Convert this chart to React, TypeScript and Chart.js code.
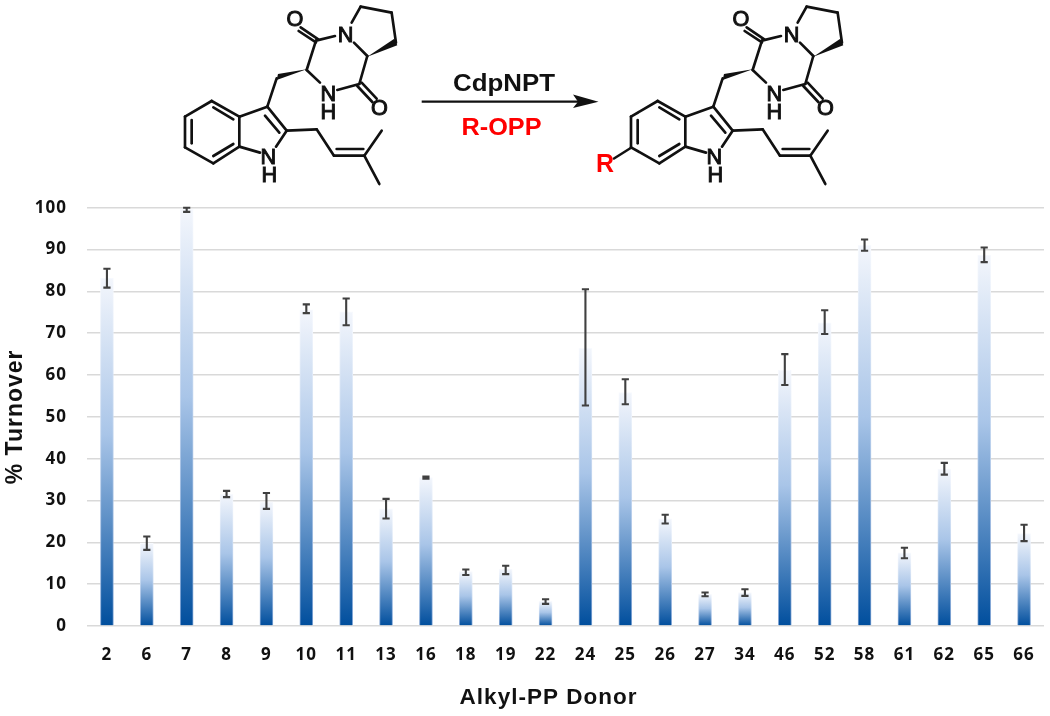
import React, { useEffect, useRef } from "react";
import { Chart, registerables } from "chart.js";

Chart.register(...registerables);

const donors = ["2","6","7","8","9","10","11","13","16","18","19","22","24","25","26","27","34","46","52","58","61","62","65","66"];
const turnover = [83.2,19.8,99.6,31.5,29.7,75.6,75.1,28,35.5,13,13.6,5.9,66.4,55.8,25.6,7.6,8,61.2,72.5,91,17.5,37.5,88.7,22.1];
const errorHigh = [85.4,21.4,100,32.3,31.8,76.9,78.3,30.4,35.7,13.5,14.4,6.4,80.5,59,26.6,8,8.8,65,75.5,92.4,18.7,39,90.5,24.2];
const errorLow = [80.9,18.2,99,30.8,28,74.8,71.9,25.7,35.2,12.2,12.4,5.3,52.7,53,24.5,7.1,7.2,57.6,69.8,89.7,16.2,36.2,87,20.3];
const yTicks = [0,10,20,30,40,50,60,70,80,90,100];

const FONT = "'Open Sans', sans-serif";
const TITLE_FONT = "'Liberation Sans', Arial, sans-serif";

function barGradient(ctx: any, stops: [number, string][]) {
  const chart = ctx.chart;
  const yScale = chart.scales.y;
  if (!yScale || ctx.parsed == null) return stops[0][1];
  const top = yScale.getPixelForValue(ctx.parsed.y);
  const bottom = yScale.getPixelForValue(0);
  if (!isFinite(top) || !isFinite(bottom)) return stops[0][1];
  const g = chart.ctx.createLinearGradient(0, top, 0, bottom);
  stops.forEach(([o, c]) => g.addColorStop(o, c));
  return g;
}

const errorBars = {
  id: "errorBars",
  afterDatasetsDraw(chart: any) {
    const { ctx, scales } = chart;
    const meta = chart.getDatasetMeta(0);
    ctx.save();
    ctx.strokeStyle = "#404040";
    ctx.lineWidth = 2.1;
    meta.data.forEach((bar: any, i: number) => {
      const x = bar.x;
      const hi = scales.y.getPixelForValue(errorHigh[i]);
      const lo = scales.y.getPixelForValue(errorLow[i]);
      ctx.beginPath();
      ctx.moveTo(x, hi);
      ctx.lineTo(x, lo);
      ctx.moveTo(x - 3.6, hi);
      ctx.lineTo(x + 3.6, hi);
      ctx.moveTo(x - 3.6, lo);
      ctx.lineTo(x + 3.6, lo);
      ctx.stroke();
    });
    ctx.restore();
  },
};

// Spaces the text out slightly and moves the x-axis title left of the plot centre, as in the reference.
const textSpacing = {
  id: "textSpacing",
  beforeDraw(chart: any) {
    chart.ctx.letterSpacing = "1px";
    const s = chart.scales.x;
    if (!s.$titleShifted) {
      s.right -= 34;
      s.$titleShifted = true;
    }
  },
};

type Seg = [number, number, number, number];
const bonds: Seg[] = [
  [452,82,505,118],[446,93,498,127],[498,122,555,108],[605,68,632,20],[632,20,725,38],[725,38,738,128],
  [652,168,612,128],[652,168,628,252],[635,248,680,296],[622,258,667,306],[628,252,562,270],
  [510,248,470,210],[470,210,498,122],[380,235,352,320],[352,320,410,392],[345,347,388,398],
  [352,320,268,350],[268,350,268,440],[268,440,330,458],[378,440,410,392],
  [268,350,185,303],[185,303,105,350],[105,350,105,442],[105,442,190,490],[190,490,268,440],
  [190,322,250,358],[125,360,125,430],[190,468,250,432],
  [410,392,500,388],[500,388,552,467],[552,467,643,467],[560,447,640,447],[643,467,695,392],[643,467,688,552],
];
const wedges = ["652,170 733,116 742,136", "470,208 384,222 380,240"];
const atoms: [string, number, number][] = [
  ["O",435,55],["N",587,102],["N",535,280],["H",535,334],["O",688,322],["N",355,468],["H",358,522],
];

function Molecule({ dx }: { dx: number }) {
  return (
    <g transform={`translate(${dx},0) scale(0.3333)`}>
      {bonds.map((b, i) => (
        <line key={i} x1={b[0]} y1={b[1]} x2={b[2]} y2={b[3]} stroke="#111" strokeWidth={8} strokeLinecap="round" />
      ))}
      {wedges.map((p, i) => <polygon key={i} points={p} fill="#111" />)}
      {atoms.map((a, i) => (
        <text key={i} x={a[1]} y={a[2] + 23} textAnchor="middle" fontFamily={TITLE_FONT} fontSize={65} fill="#111" stroke="#111" strokeWidth={3}>{a[0]}</text>
      ))}
    </g>
  );
}

export default function App() {
  const ref = useRef<HTMLCanvasElement>(null);
  useEffect(() => {
    const chart = new Chart(ref.current!, {
      type: "bar",
      data: {
        labels: donors,
        datasets: [{
          label: "% Turnover",
          data: turnover,
          barThickness: 13,
          borderWidth: 1,
          clip: false,
          backgroundColor: (c: any) => barGradient(c, [[0, "#f3f6fc"], [0.45, "#a9c5e8"], [1, "#004e9d"]]),
          borderColor: (c: any) => barGradient(c, [[0, "#f8fafe"], [0.45, "#c6d8f0"], [1, "#7fa3d4"]]),
        }],
      },
      plugins: [textSpacing, errorBars],
      options: {
        animation: false,
        responsive: false,
        layout: { padding: { top: 207.7, right: 6, left: 0, bottom: 0 } },
        plugins: { legend: { display: false }, tooltip: { enabled: false } },
        scales: {
          x: {
            afterFit: (s: any) => { s.height = 90; s.paddingLeft = 0; s.paddingRight = 0; },
            grid: { display: false, drawTicks: false },
            border: { display: false },
            ticks: { color: "#111", padding: 19, maxRotation: 0, autoSkip: false, font: { family: FONT, weight: "bold", size: 17 } },
            title: { display: true, text: "Alkyl-PP Donor", color: "#111", padding: { top: 0, bottom: 5 }, font: { family: TITLE_FONT, weight: "bold", size: 22.5 } },
          },
          y: {
            min: 0,
            max: 100,
            afterFit: (s: any) => { s.width = 87; },
            afterBuildTicks: (s: any) => { s.ticks = yTicks.map((value) => ({ value })); },
            grid: { color: "#d9d9d9", lineWidth: 1.6, drawTicks: false },
            border: { display: false },
            ticks: { color: "#111", padding: 20, font: { family: FONT, weight: "bold", size: 17 } },
            title: { display: true, text: "% Turnover", color: "#111", padding: { top: 2, bottom: 0 }, font: { family: TITLE_FONT, weight: "bold", size: 23 } },
          },
        },
      },
    } as any);
    return () => chart.destroy();
  }, []);
  return (
    <div style={{ position: "absolute", left: 0, top: 0, width: 1050, height: 716, background: "#fff" }}>
      <canvas ref={ref} width={1050} height={716} style={{ display: "block" }} />
      <svg width={1050} height={195} style={{ position: "absolute", left: 0, top: 0 }}>
        <Molecule dx={150} />
        <Molecule dx={596} />
        <line x1={421.7} y1={101.7} x2={580} y2={101.7} stroke="#111" strokeWidth={2.2} />
        <polygon points="573,94.5 598.5,101.7 573,108 578,101.7" fill="#111" />
        <text x={504} y={90.5} textAnchor="middle" textLength={102} lengthAdjust="spacingAndGlyphs" fontFamily={TITLE_FONT} fontWeight="bold" fontSize={24} fill="#111">CdpNPT</text>
        <text x={501.5} y={135} textAnchor="middle" textLength={80} lengthAdjust="spacingAndGlyphs" fontFamily={TITLE_FONT} fontWeight="bold" fontSize={24} fill="#ff0000">R-OPP</text>
        <text x={605} y={172} textAnchor="middle" fontFamily={TITLE_FONT} fontWeight="bold" fontSize={25} fill="#ff0000">R</text>
        <line x1={630.7} y1={148} x2={614} y2={158.5} stroke="#111" strokeWidth={2.5} strokeLinecap="round" />
      </svg>
    </div>
  );
}
